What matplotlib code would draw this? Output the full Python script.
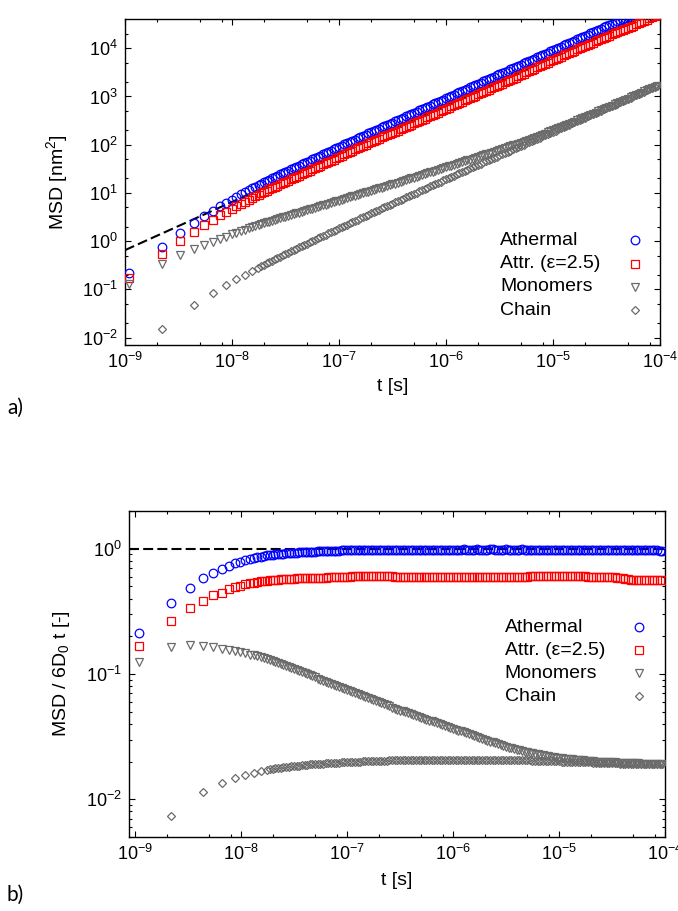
import numpy as np
import matplotlib
matplotlib.use("Agg")
import matplotlib.pyplot as plt
from matplotlib.ticker import LogLocator, LogFormatterSciNotation, NullFormatter

plt.rcParams['font.family'] = ['Liberation Sans', 'DejaVu Sans']
plt.rcParams['mathtext.fontset'] = 'custom'
plt.rcParams['mathtext.rm'] = 'Liberation Sans'
plt.rcParams['mathtext.it'] = 'Liberation Sans:italic'
plt.rcParams['mathtext.bf'] = 'Liberation Sans:bold'
plt.rcParams['axes.unicode_minus'] = False

# ---------------------------------------------------------------- data
# early, linearly spaced sampling times [ns]
t_lin_ns = [1.1, 2.2, 3.3, 4.4, 5.5, 6.6, 7.7, 8.8, 9.9, 11.0, 12.1, 13.2, 14.3, 15.4, 16.5]
# later, logarithmically spaced sampling times [ns]
t_log_ns = [
    17.78, 18.84, 19.95, 21.13, 22.39, 23.71, 25.12, 26.61, 28.18, 29.85,
    31.62, 33.50, 35.48, 37.58, 39.81, 42.17, 44.67, 47.32, 50.12, 53.09,
    56.23, 59.57, 63.10, 66.83, 70.79, 74.99, 79.43, 84.14, 89.13, 94.41,
    100.0, 105.9, 112.2, 118.9, 125.9, 133.4, 141.3, 149.6, 158.5, 167.9,
    177.8, 188.4, 199.5, 211.3, 223.9, 237.1, 251.2, 266.1, 281.8, 298.5,
    316.2, 335.0, 354.8, 375.8, 398.1, 421.7, 446.7, 473.2, 501.2, 530.9,
    562.3, 595.7, 631.0, 668.3, 707.9, 749.9, 794.3, 841.4, 891.3, 944.1,
    1000, 1059, 1122, 1189, 1259, 1334, 1413, 1496, 1585, 1679,
    1778, 1884, 1995, 2113, 2239, 2371, 2512, 2661, 2818, 2985,
    3162, 3350, 3548, 3758, 3981, 4217, 4467, 4732, 5012, 5309,
    5623, 5957, 6310, 6683, 7079, 7499, 7943, 8414, 8913, 9441,
    10000, 10590, 11220, 11890, 12590, 13340, 14130, 14960, 15850, 16790,
    17780, 18840, 19950, 21130, 22390, 23710, 25120, 26610, 28180, 29850,
    31620, 33500, 35480, 37580, 39810, 42170, 44670, 47320, 50120, 53090,
    56230, 59570, 63100, 66830, 70790, 74990, 79430, 84140, 89130, 94410,
]
# chain centre of mass is stored every second step at early times
t_chain_lin_ns = [2.2, 4.4, 6.6, 8.8, 11.0, 13.2, 15.4, 17.6]

t_ns = t_lin_ns + t_log_ns
t_chain_ns = t_chain_lin_ns + t_log_ns[1:]

# MSD / (6 D0 t)
athermal_norm = [
    0.214, 0.372, 0.490, 0.580, 0.645, 0.690, 0.730, 0.765, 0.790, 0.808, 0.825, 0.840, 0.853, 0.864, 0.874,
    0.884, 0.890, 0.895, 0.900, 0.905, 0.910, 0.914, 0.918, 0.922, 0.926,
    0.929, 0.932, 0.935, 0.938, 0.940, 0.943, 0.945, 0.948, 0.950, 0.952,
    0.954, 0.956, 0.958, 0.960, 0.962, 0.963, 0.965, 0.966, 0.968, 0.969,
    0.970, 0.971, 0.972, 0.973, 0.973, 0.974, 0.975, 0.975, 0.976, 0.977,
    0.977, 0.978, 0.978, 0.979, 0.979, 0.979, 0.980, 0.980, 0.980, 0.981,
    0.981, 0.981, 0.981, 0.982, 0.982, 0.982, 0.982, 0.983, 0.983, 0.983,
    0.983, 0.983, 0.984, 0.984, 0.984, 0.984, 0.984, 0.985, 0.984, 0.985,
    0.985, 0.984, 0.985, 0.985, 0.986, 0.985, 0.985, 0.984, 0.985, 0.986,
    0.985, 0.985, 0.984, 0.985, 0.986, 0.986, 0.985, 0.984, 0.985, 0.985,
    0.986, 0.985, 0.985, 0.984, 0.985, 0.985, 0.986, 0.985, 0.984, 0.985,
    0.985, 0.984, 0.985, 0.984, 0.984, 0.983, 0.984, 0.984, 0.983, 0.984,
    0.984, 0.983, 0.984, 0.983, 0.983, 0.982, 0.983, 0.982, 0.982, 0.981,
    0.981, 0.981, 0.980, 0.980, 0.979, 0.979, 0.978, 0.978, 0.977, 0.977,
    0.976, 0.976, 0.975, 0.975, 0.974, 0.974, 0.973, 0.973, 0.972, 0.972,
    0.971, 0.971, 0.970, 0.970, 0.969, 0.969, 0.968, 0.968, 0.967, 0.967,
]
attractive_norm = [
    0.166, 0.265, 0.335, 0.380, 0.425, 0.447, 0.475, 0.495, 0.508, 0.520, 0.530, 0.537, 0.543, 0.548, 0.552,
    0.556, 0.559, 0.562, 0.565, 0.567, 0.569, 0.571, 0.573, 0.575, 0.577,
    0.578, 0.580, 0.581, 0.582, 0.583, 0.584, 0.585, 0.586, 0.587, 0.587,
    0.588, 0.589, 0.589, 0.590, 0.590, 0.591, 0.591, 0.592, 0.592, 0.593,
    0.593, 0.596, 0.602, 0.606, 0.608, 0.609, 0.609, 0.609, 0.609, 0.609,
    0.609, 0.609, 0.608, 0.608, 0.608, 0.608, 0.607, 0.606, 0.600, 0.596,
    0.595, 0.594, 0.594, 0.595, 0.595, 0.594, 0.594, 0.595, 0.595, 0.594,
    0.594, 0.595, 0.595, 0.594, 0.595, 0.595, 0.594, 0.594, 0.595, 0.595,
    0.594, 0.595, 0.595, 0.594, 0.594, 0.595, 0.595, 0.594, 0.595, 0.595,
    0.594, 0.594, 0.595, 0.595, 0.594, 0.595, 0.595, 0.594, 0.594, 0.595,
    0.595, 0.594, 0.595, 0.595, 0.594, 0.595, 0.595, 0.596, 0.598, 0.602,
    0.606, 0.608, 0.609, 0.609, 0.609, 0.609, 0.609, 0.609, 0.609, 0.609,
    0.609, 0.609, 0.608, 0.608, 0.608, 0.608, 0.607, 0.607, 0.606, 0.605,
    0.604, 0.600, 0.597, 0.595, 0.594, 0.594, 0.593, 0.593, 0.592, 0.592,
    0.591, 0.590, 0.588, 0.585, 0.580, 0.575, 0.570, 0.567, 0.566, 0.565,
    0.565, 0.565, 0.564, 0.565, 0.564, 0.564, 0.565, 0.564, 0.564, 0.564,
]
monomers_norm = [
    0.125, 0.164, 0.171, 0.168, 0.163, 0.159, 0.156, 0.152, 0.149, 0.146, 0.143, 0.141, 0.139, 0.137, 0.135,
    0.1320, 0.1295, 0.1271, 0.1247, 0.1224, 0.1201, 0.1178, 0.1156, 0.1134, 0.1113,
    0.1092, 0.1072, 0.1051, 0.1031, 0.1012, 0.0993, 0.0974, 0.0956, 0.0938, 0.0920,
    0.0903, 0.0886, 0.0869, 0.0853, 0.0837, 0.0821, 0.0805, 0.0790, 0.0775, 0.0761,
    0.0746, 0.0732, 0.0719, 0.0705, 0.0692, 0.0679, 0.0666, 0.0653, 0.0641, 0.0629,
    0.0617, 0.0606, 0.0594, 0.0583, 0.0572, 0.0561, 0.0551, 0.0540, 0.0530, 0.0520,
    0.0510, 0.0502, 0.0494, 0.0486, 0.0478, 0.0470, 0.0462, 0.0454, 0.0447, 0.0439,
    0.0432, 0.0425, 0.0418, 0.0411, 0.0404, 0.0398, 0.0391, 0.0385, 0.0378, 0.0372,
    0.0366, 0.0360, 0.0354, 0.0348, 0.0342, 0.0336, 0.0331, 0.0325, 0.0320, 0.0315,
    0.0309, 0.0304, 0.0299, 0.0294, 0.0289, 0.0285, 0.0280, 0.0275, 0.0271, 0.0266,
    0.0262, 0.0258, 0.0255, 0.0252, 0.0249, 0.0246, 0.0243, 0.0240, 0.0238, 0.0235,
    0.0233, 0.0230, 0.0228, 0.0226, 0.0224, 0.0222, 0.0220, 0.0218, 0.0217, 0.0215,
    0.0214, 0.0212, 0.0211, 0.0210, 0.0209, 0.0208, 0.0207, 0.0206, 0.0205, 0.0204,
    0.0203, 0.0202, 0.0202, 0.0201, 0.0200, 0.0200, 0.0199, 0.0199, 0.0198, 0.0198,
    0.0197, 0.0197, 0.0196, 0.0196, 0.0195, 0.0195, 0.0195, 0.0194, 0.0194, 0.0194,
    0.0194, 0.0193, 0.0193, 0.0193, 0.0193, 0.0192, 0.0192, 0.0192, 0.0192, 0.0191,
]
chain_norm = [
    0.0073, 0.0114, 0.0134, 0.0148, 0.0157, 0.0163, 0.0168, 0.0172,
    0.0174, 0.0175, 0.0177, 0.0178, 0.0179, 0.0180, 0.0181, 0.0182, 0.0183,
    0.0184, 0.0185, 0.0186, 0.0187, 0.0188, 0.0189, 0.0190, 0.0190, 0.0191, 0.0192,
    0.0193, 0.0193, 0.0194, 0.0194, 0.0195, 0.0195, 0.0196, 0.0196, 0.0197, 0.0197,
    0.0198, 0.0198, 0.0199, 0.0199, 0.0200, 0.0200, 0.0201, 0.0201, 0.0201, 0.0202,
    0.0202, 0.0202, 0.0203, 0.0203, 0.0203, 0.0203, 0.0204, 0.0204, 0.0204, 0.0204,
    0.0205, 0.0205, 0.0205, 0.0205, 0.0205, 0.0206, 0.0206, 0.0206, 0.0206, 0.0206,
    0.0206, 0.0206, 0.0206, 0.0207, 0.0207, 0.0207, 0.0207, 0.0207, 0.0207, 0.0207,
    0.0207, 0.0207, 0.0207, 0.0207, 0.0207, 0.0207, 0.0207, 0.0207, 0.0206, 0.0206,
    0.0206, 0.0206, 0.0206, 0.0206, 0.0206, 0.0206, 0.0205, 0.0205, 0.0205, 0.0205,
    0.0205, 0.0205, 0.0205, 0.0205, 0.0204, 0.0204, 0.0204, 0.0204, 0.0204, 0.0204,
    0.0203, 0.0203, 0.0203, 0.0203, 0.0202, 0.0202, 0.0202, 0.0202, 0.0201, 0.0201,
    0.0201, 0.0200, 0.0200, 0.0200, 0.0199, 0.0199, 0.0199, 0.0198, 0.0198, 0.0198,
    0.0197, 0.0197, 0.0197, 0.0196, 0.0196, 0.0196, 0.0195, 0.0195, 0.0195, 0.0194,
    0.0194, 0.0194, 0.0194, 0.0193, 0.0193, 0.0193, 0.0193, 0.0192, 0.0192, 0.0192,
    0.0192, 0.0192, 0.0191, 0.0191, 0.0191, 0.0191, 0.0191, 0.0190, 0.0190, 0.0190,
]

labels = ["Athermal", "Attr. (\u03b5=2.5)", "Monomers", "Chain"]

SIX_D0 = 9.3e8       # 6 D0 [nm^2/s]
REF_RATE = 6.5e8     # slope of the dashed diffusive reference line [nm^2/s]

# --------------------------------------------------------------- style
BLUE, RED, GREY = "#0000ff", "#ff0000", "#6b6b6b"
styles = [
    dict(marker="o", ms=6.2, mec=BLUE),
    dict(marker="s", ms=6.0, mec=RED),
    dict(marker="v", ms=6.2, mec=GREY),
    dict(marker="D", ms=4.5, mec=GREY),
]

t = np.array(t_ns) * 1e-9
t_chain = np.array(t_chain_ns) * 1e-9
series_t = [t, t, t, t_chain]
series_norm = [np.array(athermal_norm), np.array(attractive_norm),
               np.array(monomers_norm), np.array(chain_norm)]

TICK_FS = 13
LABEL_FS = 14
LEGEND_FS = 14


def style_axes(ax, ysubs):
    ax.set_xscale("log")
    ax.set_yscale("log")
    ax.xaxis.set_major_locator(LogLocator(base=10, numticks=20))
    ax.xaxis.set_minor_locator(LogLocator(base=10, subs=[2, 5, 8], numticks=20))
    ax.yaxis.set_major_locator(LogLocator(base=10, numticks=20))
    ax.yaxis.set_minor_locator(LogLocator(base=10, subs=ysubs, numticks=20))
    ax.xaxis.set_major_formatter(LogFormatterSciNotation())
    ax.yaxis.set_major_formatter(LogFormatterSciNotation())
    ax.xaxis.set_minor_formatter(NullFormatter())
    ax.yaxis.set_minor_formatter(NullFormatter())
    ax.tick_params(which="both", direction="in", top=True, right=True,
                   width=0.8, labelsize=TICK_FS, colors="black")
    ax.tick_params(which="major", length=4.5, pad=5)
    ax.tick_params(which="minor", length=2.5)
    for sp in ax.spines.values():
        sp.set_linewidth(1.0)


def draw_series(ax, scale_fn):
    for tt, nn, st in zip(series_t, series_norm, styles):
        ax.plot(tt, scale_fn(tt, nn), linestyle="none", mfc="none",
                mew=0.9, zorder=3, **st)


def draw_key(ax, x_text, x_mark, y_top, dy):
    # gnuplot-style key: left-aligned labels with the symbol to the right
    for i, (lab, st) in enumerate(zip(labels, styles)):
        y = y_top - i * dy
        ax.text(x_text, y, lab, transform=ax.transAxes, fontsize=LEGEND_FS,
                ha="left", va="center")
        ax.plot([x_mark], [y], transform=ax.transAxes, linestyle="none",
                mfc="none", mew=0.9, clip_on=False, **st)


fig = plt.figure(figsize=(6.78, 9.11), dpi=100)
W, H = 678.0, 911.0

# ------------------------------------------------------------ a) MSD
ax1 = fig.add_axes([125 / W, 1 - 345 / H, 535 / W, 326 / H])
style_axes(ax1, [2, 5])
xlim1 = (1e-9, 1e-4)
ax1.plot(xlim1, REF_RATE * np.array(xlim1), color="black", lw=1.5,
         dashes=(4.8, 2.0), zorder=2)
draw_series(ax1, lambda tt, nn: nn * SIX_D0 * tt)
ax1.set_xlim(*xlim1)
ax1.set_ylim(0.007, 4.05e4)
ax1.set_xlabel("t [s]", fontsize=LABEL_FS, labelpad=4)
ax1.set_ylabel("MSD [nm$^2$]", fontsize=LABEL_FS, labelpad=9)
draw_key(ax1, 0.701, 0.953, 0.322, 0.072)

# ---------------------------------------------------- b) MSD / 6 D0 t
ax2 = fig.add_axes([129 / W, 1 - 837 / H, 536 / W, 326 / H])
style_axes(ax2, [2, 3, 4, 5, 6, 7, 8, 9])
ax2.axhline(1.0, color="black", lw=1.5, dashes=(4.8, 2.0), zorder=2)
draw_series(ax2, lambda tt, nn: nn)
ax2.set_xlim(8.8e-10, 1e-4)
ax2.set_ylim(0.005, 2.0)
ax2.set_xlabel("t [s]", fontsize=LABEL_FS, labelpad=6)
ax2.set_ylabel("MSD / 6D$_0$ t [-]", fontsize=LABEL_FS, labelpad=10)
draw_key(ax2, 0.701, 0.951, 0.644, 0.071)

fig.text(7 / W, 1 - 408 / H, "a)", fontsize=15, family=["Lato", "DejaVu Sans"],
         va="center", ha="left")
fig.text(7 / W, 1 - 895 / H, "b)", fontsize=15, family=["Lato", "DejaVu Sans"],
         va="center", ha="left")

fig.savefig("out.png", dpi=100)
